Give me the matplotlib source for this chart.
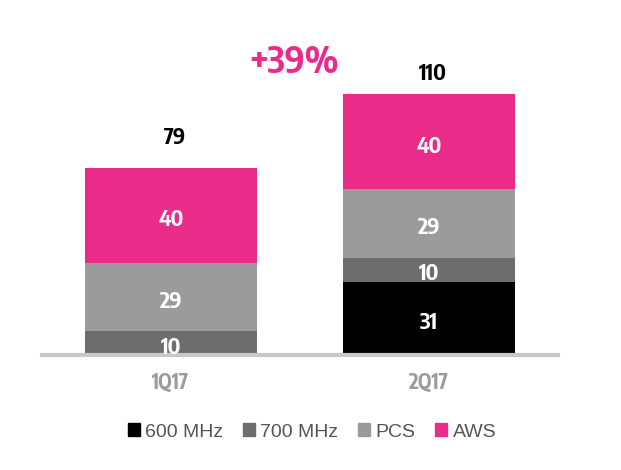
import numpy as np
import matplotlib
matplotlib.use("Agg")
import matplotlib.pyplot as plt
from matplotlib.patches import Patch

plt.rcParams['font.family'] = ['Liberation Sans', 'DejaVu Sans']
narrow = ['Encode Sans Condensed', 'Liberation Sans', 'DejaVu Sans']

quarters = ['1Q17', '2Q17']
series = ['600 MHz', '700 MHz', 'PCS', 'AWS']
mhz600 = [0, 31]
mhz700 = [10, 10]
pcs = [29, 29]
aws = [40, 40]
totals = [79, 110]
growth = '+39%'

colors = ['#000000', '#6d6d6d', '#9b9b9b', '#e92b8a']

fig = plt.figure(figsize=(6.21, 4.70), dpi=100)
ax = fig.add_axes([42/621, 115/470, 516/621, 308/470])

x = np.arange(len(quarters))
bottom = np.zeros(len(quarters))
for vals, c in zip([mhz600, mhz700, pcs, aws], colors):
    vals = np.array(vals)
    ax.bar(x, vals, 0.667, bottom=bottom, color=c, linewidth=0)
    for i in range(len(x)):
        if vals[i] > 0:
            ax.text(x[i], bottom[i] + vals[i]/2 - 2, str(vals[i]), ha='center', va='center',
                    color='white', fontsize=16, fontweight='bold', family=narrow)
    bottom += vals

# offsets above the bars differ a bit in the original
offs = [12.5, 8.5]
for i in range(len(x)):
    ax.text(x[i] + 0.015, totals[i] + offs[i], str(totals[i]), ha='center', va='center',
            color='black', fontsize=16, fontweight='bold', family=narrow)

ax.text(0.475, 123.5, growth, ha='center', va='center', color='#e92b8a',
        fontsize=26, fontweight='bold', family=narrow)

ax.set_xlim(-0.5, 1.5)
ax.set_ylim(0, 130)
for s in ['top', 'right', 'left']:
    ax.spines[s].set_visible(False)
ax.spines['bottom'].set_color('#c8c8c8')
ax.spines['bottom'].set_linewidth(3)
ax.set_yticks([])
ax.set_xticks(x)
ax.set_xticklabels(quarters, color='#9b9b9b', fontsize=15, fontweight='bold', family=narrow)
ax.tick_params(axis='x', length=0, pad=12)

handles = [Patch(color=c, label=s) for c, s in zip(colors, series)]
fig.legend(handles=handles, loc='center', bbox_to_anchor=(312/621, 1 - 432/470), ncol=4,
           frameon=False, fontsize=14, handlelength=0.6, handleheight=0.6,
           handletextpad=0.3, columnspacing=1.0, labelcolor='#555555')

fig.savefig('out.png', dpi=100)
